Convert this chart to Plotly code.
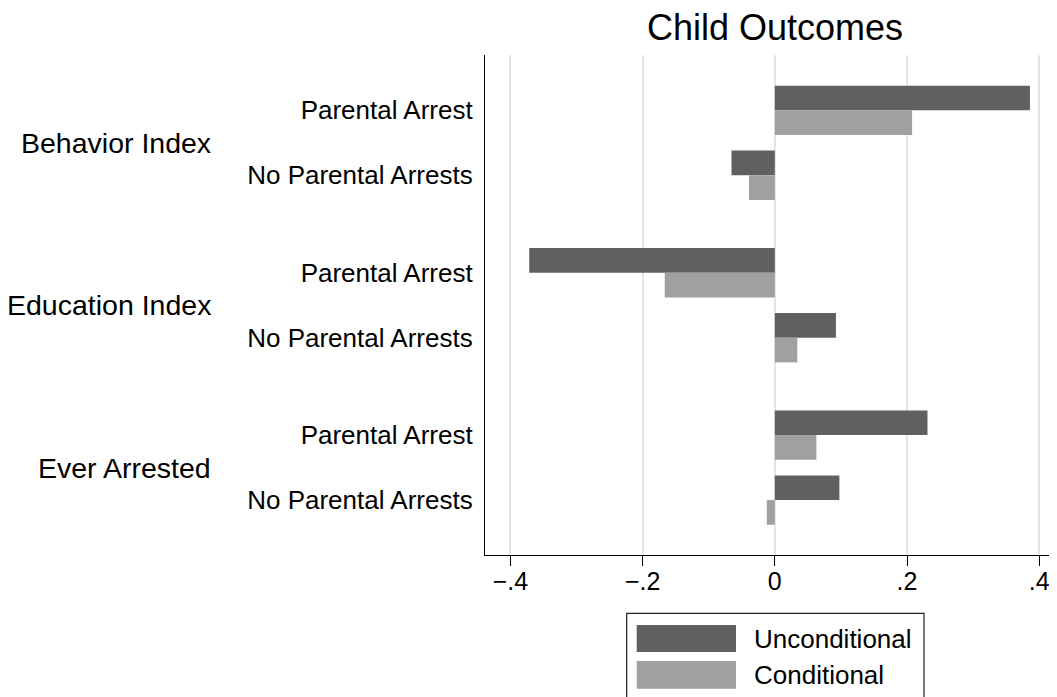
import plotly.graph_objects as go

# ---- data ----
groups = ["Behavior Index", "Education Index", "Ever Arrested"]
subgroups = ["Parental Arrest", "No Parental Arrests"]
series_names = ["Unconditional", "Conditional"]
unconditional = [0.386, -0.0655, -0.3715, 0.0925, 0.231, 0.0977]
conditional = [0.2077, -0.039, -0.1665, 0.034, 0.0629, -0.0121]
x_tickvals = [-0.4, -0.2, 0, 0.2, 0.4]
x_ticktext = ["\u2212.4", "\u2212.2", "0", ".2", ".4"]
title_text = "Child Outcomes"

colors = ["#606060", "#a0a0a0"]
FONT = "Liberation Sans, Arial, sans-serif"

# page body has an 8px margin; work in window coordinates and shift
OFF = 8
WW, WH = 1057, 697
W, H = WW - OFF, WH - OFF
L_w, T_w, B_w = 485, 55, 554.7          # plot-area edges in window px
L, R, T = L_w - OFF, 0, T_w - OFF
B = WH - B_w
pw, ph = W - L - R, H - T - B

def px(x):
    return (x - L_w) / pw

def py(y):
    return (B_w - y) / ph

# y positions: subgroups 1 apart, groups separated by extra 0.5
ypos, ylabels, group_centers = [], [], []
for gi, g in enumerate(groups):
    start = gi * 2.5
    for si, s in enumerate(subgroups):
        ypos.append(start + si)
        ylabels.append(s)
    group_centers.append(start + (len(subgroups) - 1) / 2)

fig = go.Figure()
for name, vals, col in zip(series_names, [unconditional, conditional], colors):
    fig.add_trace(go.Bar(
        x=vals, y=ypos, orientation="h", name=name,
        marker=dict(color=col, line=dict(color=col, width=0)),
        showlegend=False,
    ))

fig.update_layout(
    width=W, height=H,
    margin=dict(l=L, r=R, t=T, b=B, pad=0),
    plot_bgcolor="white", paper_bgcolor="white",
    barmode="group", bargap=0.24, bargroupgap=0,
    font=dict(family=FONT, color="black"),
    title=dict(text=title_text, x=px(775), xanchor="center", xref="paper",
               y=1 - (27 - OFF) / H, yanchor="middle", yref="container",
               font=dict(size=36, family=FONT, color="black")),
)

xmin = -(774.8 - L_w) / 661
xmax = (WW - 774.8) / 661
fig.update_xaxes(
    range=[xmin, xmax], tickvals=x_tickvals, ticktext=x_ticktext,
    showgrid=True, gridcolor="#e5e5e5", gridwidth=1.5, zeroline=False,
    showline=True, linecolor="black", linewidth=1.3,
    ticks="outside", ticklen=10, tickwidth=1.3, tickcolor="black",
    ticklabelstandoff=-6,
    tickfont=dict(size=25, family=FONT, color="black"),
)

ytop = -(110.3 - T_w) / 64.92
ybot = 6 + (B_w - 499.8) / 64.92
fig.update_yaxes(
    range=[ybot, ytop], tickvals=ypos, ticktext=ylabels,
    showgrid=False, zeroline=False,
    showline=True, linecolor="black", linewidth=1.3,
    ticks="", ticklabelstandoff=6,
    tickfont=dict(size=26, family=FONT, color="black"),
)

for g, c in zip(groups, group_centers):
    fig.add_annotation(text=g, x=px(213.3), xref="paper", xanchor="right",
                       y=c, yref="y", yanchor="middle", showarrow=False,
                       font=dict(size=28.5, family=FONT, color="black"))

# custom legend
fig.add_shape(type="rect", xref="paper", yref="paper",
              x0=px(626.7), x1=px(924), y0=py(700), y1=py(613),
              line=dict(color="#222222", width=1.2), fillcolor="white")
leg_rows = [(624.7, 651.7), (660.7, 688.3)]
for name, col, (y0, y1) in zip(series_names, colors, leg_rows):
    fig.add_shape(type="rect", xref="paper", yref="paper",
                  x0=px(636.7), x1=px(736), y0=py(y1), y1=py(y0),
                  line=dict(width=0), fillcolor=col)
    fig.add_annotation(text=name, xref="paper", yref="paper",
                       x=px(751.7), xanchor="left", y=py((y0 + y1) / 2),
                       yanchor="middle", showarrow=False,
                       font=dict(size=26, family=FONT, color="black"))

fig.write_html("out.html")
